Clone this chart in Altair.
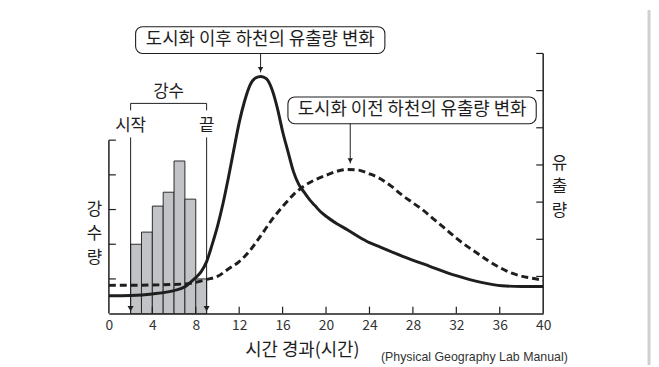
import altair as alt
import pandas as pd

FONT = "Noto Sans CJK KR"
INK = "#1e1e1e"

# ---- data ----
# rainfall bars (left scale, relative units), one bar per hour
rain_hour = [2, 3, 4, 5, 6, 7, 8]
rain_amount = [2.0, 2.35, 3.1, 3.5, 4.4, 3.3, 1.0]

# discharge after urbanization (right scale)
after_time = [0, 2, 4, 6, 7, 7.5, 8, 8.5, 9, 9.5, 10, 10.5, 11, 11.5, 12, 12.5, 13, 13.5,
              14, 14.5, 15, 15.5, 16, 16.5, 17, 17.5, 18, 18.5, 19, 19.5, 20, 21, 22, 23,
              24, 25, 27, 29.5, 32, 34.3, 36.2, 38, 40]
after_flow = [0.48, 0.49, 0.53, 0.62, 0.72, 0.84, 0.97, 1.13, 1.40, 1.85, 2.35, 2.95, 3.65,
              4.40, 5.14, 5.72, 6.15, 6.34, 6.38, 6.32, 6.05, 5.55, 4.90, 4.35, 3.82, 3.47,
              3.26, 3.06, 2.90, 2.74, 2.62, 2.42, 2.25, 2.07, 1.91, 1.79, 1.55, 1.28, 1.02,
              0.84, 0.75, 0.73, 0.73]

# discharge before urbanization (right scale)
before_time = [0, 4, 7, 8, 9, 10, 11, 12, 13, 14, 15, 16, 17, 18, 19, 20, 21, 22, 23, 24,
               25, 26, 27, 28, 29, 30, 31, 32, 33, 34, 35, 36, 37, 38, 39, 40]
before_flow = [0.76, 0.77, 0.80, 0.84, 0.92, 1.00, 1.20, 1.40, 1.70, 2.10, 2.52, 2.88, 3.20,
               3.44, 3.60, 3.72, 3.83, 3.88, 3.86, 3.76, 3.63, 3.43, 3.19, 2.98, 2.77, 2.52,
               2.28, 2.03, 1.81, 1.61, 1.41, 1.24, 1.10, 1.01, 0.95, 0.90]

x_ticks = [0, 4, 8, 12, 16, 20, 24, 28, 32, 36, 40]
left_levels = [1, 2, 3, 4, 5]
right_levels = [1, 2, 3, 4, 5, 6, 7]

# rain start / end annotation (left scale)
rain_mark_time = [2, 9]
rain_mark_label = ["시작", "끝"]
rain_title = "강수"

# callout boxes (right scale)
box_label = ["도시화 이후 하천의 유출량 변화", "도시화 이전 하천의 유출량 변화"]
box_x0 = [2.46, 16.49]
box_x1 = [25.42, 39.36]
box_y0 = [7.0, 5.11]
box_y1 = [7.72, 5.83]
arrow_x = [13.97, 22.23]
arrow_tip = [6.49, 4.04]

x_title = "시간 경과(시간)"
left_title = ["강", "수", "량"]
right_title = ["유", "출", "량"]
source = "(Physical Geography Lab Manual)"

# ---- scales / axes ----
x_scale = alt.Scale(domain=[0, 40], nice=False, zero=False)
yl_scale = alt.Scale(domain=[0, 7.5], nice=False, zero=False)
yr_scale = alt.Scale(domain=[0, 7], nice=False, zero=False)

x_axis = alt.Axis(values=x_ticks, ticks=False, grid=False, domainColor=INK, domainWidth=1.5,
                  labelFont=FONT, labelFontSize=14, labelColor="#333333", labelPadding=5,
                  labelFlush=False, labelOverlap=False,
                  title=x_title, titleFont=FONT, titleFontSize=18, titleFontWeight="normal",
                  titleColor=INK, titleX=195, titleY=42, titleAlign="center",
                  titleBaseline="alphabetic")
yl_axis = alt.Axis(orient="left", domain=False, ticks=False, labels=False, grid=False,
                   title=left_title, titleFont=FONT, titleFontSize=17, titleFontWeight="normal",
                   titleColor=INK, titleAngle=0, titleX=-15, titleY=158, titleAlign="center",
                   titleBaseline="middle", titleLineHeight=24)
yr_axis = alt.Axis(orient="right", domain=False, ticks=False, labels=False, grid=False,
                   title=right_title, titleFont=FONT, titleFontSize=17, titleFontWeight="normal",
                   titleColor=INK, titleAngle=0, titleX=16, titleY=111, titleAlign="center",
                   titleBaseline="middle", titleLineHeight=24)


def X(f):
    return alt.X(f, type="quantitative", scale=x_scale, axis=x_axis)


def YL(f):
    return alt.Y(f, type="quantitative", scale=yl_scale, axis=yl_axis)


def YR(f):
    return alt.Y(f, type="quantitative", scale=yr_scale, axis=yr_axis)


# ---- left group (rainfall) ----
rain_df = pd.DataFrame({"hour": rain_hour, "amount": rain_amount})
bars = alt.Chart(rain_df).transform_calculate(
    hour_end="datum.hour + 1", base="0"
).mark_rect(fill="#c2c3c7", stroke="#2b2b2b", strokeWidth=1).encode(
    x=X("hour"), x2="hour_end", y=YL("base"), y2="amount")

laxis_df = pd.DataFrame({"lo": [0], "hi": [max(left_levels)]})
left_line = alt.Chart(laxis_df).mark_rule(color=INK, strokeWidth=1.5).encode(
    x=alt.value(0), y=YL("lo"), y2="hi")
left_ticks = alt.Chart(pd.DataFrame({"lvl": left_levels})).mark_rule(
    color=INK, strokeWidth=1.2).encode(y=YL("lvl"), x=alt.value(0), x2=alt.value(7))

bracket_level = 6.06
label_level = 5.42
seg_rows = []
for t in rain_mark_time:
    seg_rows.append({"t": t, "a": 0.0, "b": 5.08})
    seg_rows.append({"t": t, "a": 5.86, "b": bracket_level})
seg_df = pd.DataFrame(seg_rows)
rain_segs = alt.Chart(seg_df).mark_rule(color=INK, strokeWidth=1).encode(
    x=X("t"), y=YL("a"), y2="b")
bracket = alt.Chart(pd.DataFrame({"a": [min(rain_mark_time)], "b": [max(rain_mark_time)],
                                  "lvl": [bracket_level]})).mark_rule(
    color=INK, strokeWidth=1).encode(x=X("a"), x2="b", y=YL("lvl"))
mark_df = pd.DataFrame({"t": rain_mark_time, "label": rain_mark_label, "lvl": label_level})
mark_text = alt.Chart(mark_df).mark_text(font=FONT, fontSize=17, color=INK,
                                         baseline="middle").encode(
    x=X("t"), y=YL("lvl"), text="label")
title_df = pd.DataFrame({"t": [sum(rain_mark_time) / 2], "lvl": [6.4], "label": [rain_title]})
rain_title_text = alt.Chart(title_df).mark_text(font=FONT, fontSize=17, color=INK,
                                                baseline="middle").encode(
    x=X("t"), y=YL("lvl"), text="label")
heads = alt.Chart(pd.DataFrame({"t": rain_mark_time, "lvl": 0})).mark_point(
    shape="triangle-down", size=38, filled=True, color=INK, opacity=1, yOffset=-5).encode(
    x=X("t"), y=YL("lvl"))

left_group = alt.layer(bars, left_line, left_ticks, rain_segs, bracket, mark_text,
                       rain_title_text, heads)

# ---- right group (discharge) ----
after_df = pd.DataFrame({"time": after_time, "flow": after_flow})
before_df = pd.DataFrame({"time": before_time, "flow": before_flow})
before_line = alt.Chart(before_df).mark_line(
    color=INK, strokeWidth=3, strokeDash=[7, 4], interpolate="monotone").encode(
    x=X("time"), y=YR("flow"))
after_line = alt.Chart(after_df).mark_line(
    color=INK, strokeWidth=3, interpolate="monotone").encode(
    x=X("time"), y=YR("flow"))

raxis_df = pd.DataFrame({"lo": [0], "hi": [max(right_levels)]})
right_line = alt.Chart(raxis_df).mark_rule(color=INK, strokeWidth=1.5).encode(
    x=alt.value(439), y=YR("lo"), y2="hi")
right_ticks = alt.Chart(pd.DataFrame({"lvl": right_levels})).mark_rule(
    color=INK, strokeWidth=1.2).encode(y=YR("lvl"), x=alt.value(439), x2=alt.value(432))
xt_df = pd.DataFrame({"xt": x_ticks[1:-1]})
x_tick_marks = alt.Chart(xt_df).mark_rule(color=INK, strokeWidth=1.2).encode(
    x=X("xt"), y=alt.value(263), y2=alt.value(256))

box_df = pd.DataFrame({"label": box_label, "x0": box_x0, "x1": box_x1, "y0": box_y0,
                       "y1": box_y1, "ax": arrow_x, "tip": arrow_tip})
box_df["cx"] = (box_df["x0"] + box_df["x1"]) / 2
box_df["cy"] = (box_df["y0"] + box_df["y1"]) / 2
boxes = alt.Chart(box_df).mark_rect(fill="white", stroke=INK, strokeWidth=1.1,
                                    cornerRadius=7).encode(
    x=X("x0"), x2="x1", y=YR("y0"), y2="y1")
box_text = alt.Chart(box_df).mark_text(font=FONT, fontSize=18, color=INK,
                                       baseline="middle").encode(
    x=X("cx"), y=YR("cy"), text="label")
arrows = alt.Chart(box_df).mark_rule(color=INK, strokeWidth=1).encode(
    x=X("ax"), y=YR("y0"), y2="tip")
arrow_heads = alt.Chart(box_df).mark_point(
    shape="triangle-down", size=30, filled=True, color=INK, opacity=1, yOffset=-3).encode(
    x=X("ax"), y=YR("tip"))

right_group = alt.layer(before_line, after_line, right_line, right_ticks, x_tick_marks,
                        boxes, box_text, arrows, arrow_heads)

src = alt.Chart(pd.DataFrame({"s": [source]})).mark_text(
    font="Liberation Sans", fontSize=12.5, color="#333333", align="left",
    baseline="middle").encode(x=alt.value(275), y=alt.value(307), text="s")
frame = alt.Chart(pd.DataFrame({"s": [0]})).mark_rule(
    color="#cfcfcf", strokeWidth=3).encode(x=alt.value(546), y=alt.value(-44),
                                           y2=alt.value(315))

chart = alt.layer(left_group, right_group, src, frame).resolve_scale(
    y="independent").properties(
    width=439, height=263,
    autosize=alt.AutoSizeParams(type="none"),
    padding={"left": 102, "top": 44, "right": 109, "bottom": 50},
).configure_view(stroke=None)

chart.save("out.html", embed_options={"renderer": "svg", "actions": False})
